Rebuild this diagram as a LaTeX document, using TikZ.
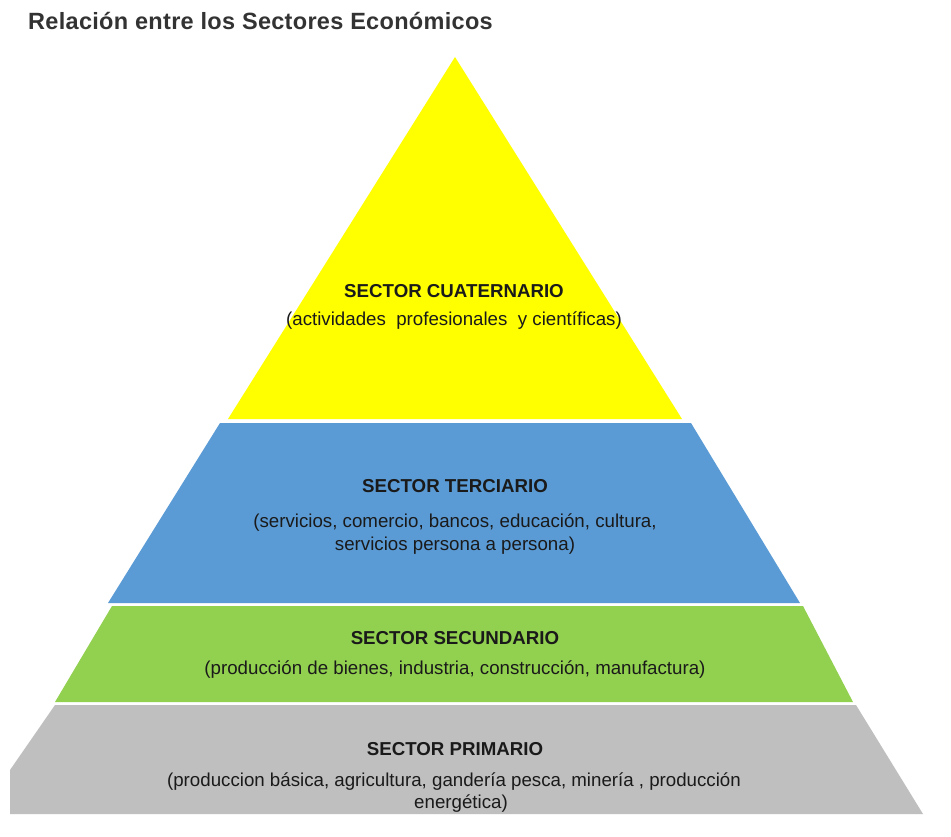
\documentclass[tikz,border=0pt]{standalone}
\usepackage{fontspec}
\setmainfont{Liberation Sans}
\newfontfamily\titlefont[LetterSpace=1.3]{Liberation Sans}
\definecolor{cYellow}{HTML}{FFFF00}
\definecolor{cBlue}{HTML}{5B9BD5}
\definecolor{cGreen}{HTML}{92D050}
\definecolor{cGray}{HTML}{BFBFBF}
\definecolor{cText}{HTML}{1A1A1A}
\definecolor{cTitle}{HTML}{333333}
\begin{document}
\begin{tikzpicture}[x=1pt,y=-1pt,
  head/.style={anchor=base,inner sep=0pt,text=cText,font=\fontsize{18.7}{22}\selectfont\bfseries},
  body/.style={anchor=base,inner sep=0pt,text=cText,font=\fontsize{18.7}{22}\selectfont}]
\useasboundingbox[fill=white] (0,0) rectangle (951,836);
% bands
\fill[cYellow] (455,57) -- (682,419) -- (228,419) -- cycle;
\fill[cBlue] (220,423) -- (691,423) -- (800,603) -- (108,603) -- cycle;
\fill[cGreen] (112,606) -- (803,606) -- (853,702) -- (55,702) -- cycle;
\fill[cGray] (55,705) -- (856,705) -- (923,814) -- (10,814) -- (10,770) -- cycle;
% title
\node[anchor=base west,inner sep=0pt,text=cTitle,font=\titlefont\fontsize{23.5}{28}\selectfont\bfseries] (title) at (28,29.5) {Relación entre los Sectores Económicos};
% cuaternario
\node[head] (h4) at (454,297) {SECTOR CUATERNARIO};
\node[body] (b4) at (454,325) {(actividades~ profesionales~ y científicas)};
% terciario
\node[head] (h3) at (455,492) {SECTOR TERCIARIO};
\node[body] (b3a) at (455,527) {(servicios, comercio, bancos, educación, cultura,};
\node[body] (b3b) at (455,550) {servicios persona a persona)};
% secundario
\node[head] (h2) at (455,644) {SECTOR SECUNDARIO};
\node[body] (b2) at (455,674) {(producción de bienes, industria, construcción, manufactura)};
% primario
\node[head] (h1) at (455,755) {SECTOR PRIMARIO};
\node[body] (b1a) at (454,786) {(produccion básica, agricultura, gandería pesca, minería , producción};
\node[body] (b1b) at (461,808) {energética)};
\end{tikzpicture}
\end{document}
